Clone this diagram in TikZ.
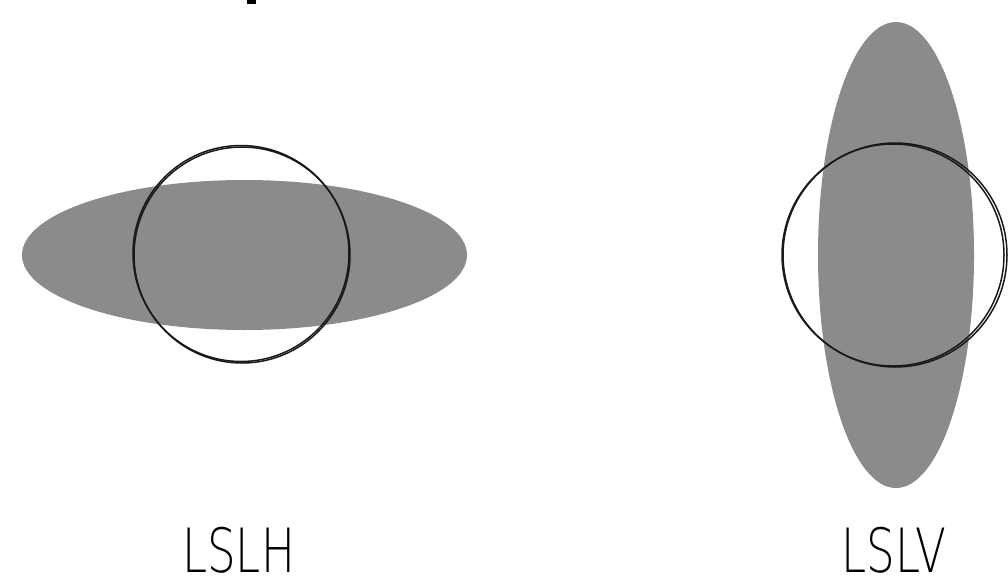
\documentclass[tikz,border=0pt]{standalone}
\usepackage{fontspec}
\setmainfont{DejaVu Sans ExtraLight}
\definecolor{blobgrey}{RGB}{137,139,141}
\tikzset{
  blob/.style={fill=blobgrey, draw=none},
  ring/.style={draw=black!90, line width=1.5pt, fill=none},
  lbl/.style={anchor=base, inner sep=0pt, font=\fontsize{61}{61}\selectfont}
}
\begin{document}
\begin{tikzpicture}[x=1pt,y=-1pt]
\useasboundingbox (0,0) rectangle (1008,582);
\fill[black] (247,0) rectangle (256,4);
% left
\fill[blob] (244.5,255) ellipse [x radius=222.5, y radius=75];
\draw[ring] (241,253.5) circle [radius=108];
\draw[ring] (242,255) circle [radius=108];
% right
\fill[blob] (896,255) ellipse [x radius=78, y radius=233];
\draw[ring] (893,255) circle [radius=111];
\draw[ring] (895,255) circle [radius=112];
\node[lbl] (lslh) at (238.5,572) {\scalebox{0.74}[1]{LSLH}};
\node[lbl] (lslv) at (894,572) {\scalebox{0.74}[1]{LSLV}};
\end{tikzpicture}
\end{document}
